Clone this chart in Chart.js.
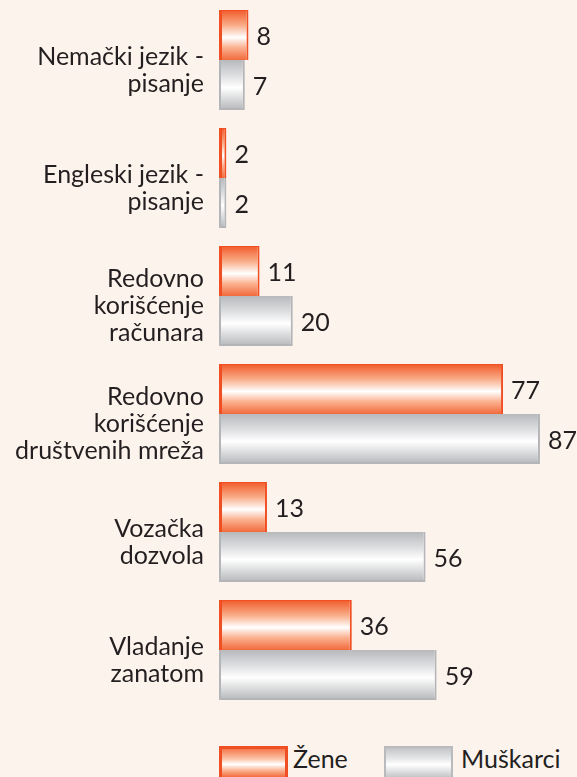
<!DOCTYPE html>
<html>
<head>
<meta charset="utf-8">
<script src="https://cdn.jsdelivr.net/npm/chart.js@4"></script>
<style>
  html, body { margin: 0; padding: 0; background: #fdf3ed; }
  #wrap { position: relative; width: 577px; height: 777px; overflow: hidden; }
  .leg { position: absolute; top: 746px; height: 34px; box-sizing: border-box; width: 69px; }
  .leg.z { left: 219px; border: 3px solid #f04e23;
    background: linear-gradient(#f47a4f, #fbc3a6 35%, #fff 55%, #fbb797 75%, #f36b3d); }
  .leg.m { left: 384px; border: 2px solid #b9babd;
    background: linear-gradient(#c3c4c7, #e6e7e8 35%, #fff 55%, #e3e4e5 75%, #c0c1c4); }
  .lt { position: absolute; top: 743px; font: 25px Lato, sans-serif; color: #231f20; }
</style>
</head>
<body>
<div id="wrap">
  <canvas id="c" width="577" height="730"></canvas>
  <div class="leg z"></div><div class="lt" style="left:293px">Žene</div>
  <div class="leg m"></div><div class="lt" style="left:461px">Muškarci</div>
</div>
<script>
/* ---------- DATA ---------- */
const CATEGORIES = [
  ["Nemački jezik -", "pisanje"],
  ["Engleski jezik -", "pisanje"],
  ["Redovno", "korišćenje", "računara"],
  ["Redovno", "korišćenje", "društvenih mreža"],
  ["Vozačka", "dozvola"],
  ["Vladanje", "zanatom"]
];
const ZENE = [8, 2, 11, 77, 13, 36];
const MUSKARCI = [7, 2, 20, 87, 56, 59];
const SERIES_NAMES = ["Žene", "Muškarci"];

const ORANGE_STOPS = [[0, "#f15a2b"], [0.3, "#f9ab86"], [0.55, "#ffffff"], [0.75, "#fbb291"], [1, "#f26a3c"]];
const GRAY_STOPS = [[0, "#b8b9bc"], [0.3, "#dcdddf"], [0.55, "#ffffff"], [0.75, "#dedfe0"], [1, "#b6b7ba"]];
const BAR_H = 50;

// vertical gradient for each bar, from the y scale position
function barGradient(stops, side) {
  return (ctx) => {
    const chart = ctx.chart;
    const y = chart.scales.y;
    if (!y || ctx.dataIndex === undefined) return stops[1][1];
    const c = y.getPixelForValue(ctx.dataIndex);
    if (!isFinite(c)) return stops[1][1];
    const top = side === 0 ? c - BAR_H : c;
    const g = chart.ctx.createLinearGradient(0, top, 0, top + BAR_H);
    stops.forEach(([o, col]) => g.addColorStop(o, col));
    return g;
  };
}

/* ---------- value labels ---------- */
const valueLabels = {
  id: "valueLabels",
  afterDatasetsDraw(chart) {
    const ctx = chart.ctx;
    ctx.save();
    ctx.font = "25px Lato, sans-serif";
    ctx.fillStyle = "#231f20";
    ctx.textBaseline = "middle";
    chart.data.datasets.forEach((ds, i) => {
      chart.getDatasetMeta(i).data.forEach((bar, j) => {
        ctx.fillText(String(ds.data[j]), bar.x + 8, bar.y + 2);
      });
    });
    ctx.restore();
  }
};

new Chart(document.getElementById("c"), {
  type: "bar",
  data: {
    labels: CATEGORIES,
    datasets: [
      {
        label: SERIES_NAMES[0],
        data: ZENE,
        backgroundColor: barGradient(ORANGE_STOPS, 0),
        borderColor: "#f04e23",
        borderWidth: { left: 3, top: 1, right: 2, bottom: 0 },
        borderSkipped: false
      },
      {
        label: SERIES_NAMES[1],
        data: MUSKARCI,
        backgroundColor: barGradient(GRAY_STOPS, 1),
        borderColor: "#b4b5b8",
        borderWidth: { left: 2, top: 0, right: 2, bottom: 2 },
        borderSkipped: false
      }
    ]
  },
  options: {
    indexAxis: "y",
    responsive: false,
    animation: false,
    layout: { padding: { top: 1, right: 26, bottom: 21, left: 0 } },
    datasets: { bar: { categoryPercentage: 100 / 118, barPercentage: 1 } },
    plugins: { legend: { display: false }, tooltip: { enabled: false } },
    scales: {
      x: { display: false, min: 0, max: 90 },
      y: {
        grid: { display: false, drawTicks: false },
        border: { display: false },
        afterFit: (s) => {
          s.width = 219;
          s.paddingTop = 0;
          s.paddingBottom = 0;
        },
        ticks: {
          padding: 15,
          labelOffset: 10,
          color: "#231f20",
          font: { family: "Lato, sans-serif", size: 25, lineHeight: 1.08 }
        }
      }
    }
  },
  plugins: [valueLabels]
});
</script>
</body>
</html>
